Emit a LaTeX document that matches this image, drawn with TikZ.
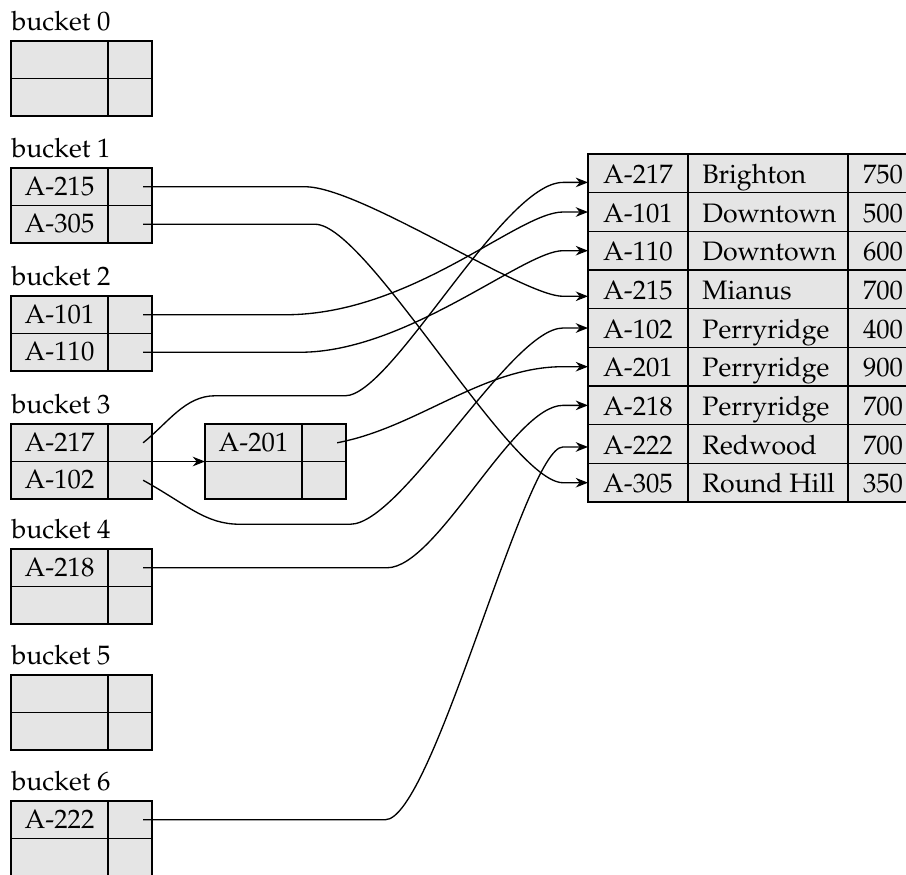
\documentclass[tikz,border=0pt]{standalone}
\usepackage[T1]{fontenc}
\usepackage{palatino}
\usetikzlibrary{arrows.meta}
\definecolor{cellgray}{gray}{0.9}
\tikzset{
  cell/.style={draw, fill=cellgray, line width=0.55pt, inner sep=0pt, outer sep=0pt, text height=6.5pt, text depth=0pt},
  keycell/.style={cell, minimum width=36.4pt, minimum height=14.06pt},
  ptrcell/.style={cell, minimum width=16.5pt, minimum height=14.06pt},
  numcell/.style={cell, minimum width=37.5pt, minimum height=14.5pt, text height=7.5pt},
  branchcell/.style={cell, minimum width=60pt, minimum height=14.5pt, text height=7.5pt, inner xsep=5.4pt},
  balcell/.style={cell, minimum width=26.25pt, minimum height=14.5pt, text height=7.5pt},
  bucketlabel/.style={anchor=base west, inner sep=0pt},
  link/.style={line width=0.5pt, -{Stealth[length=4.6pt,width=3.6pt]}}
}
\newcommand{\hashbucket}[5]{%
  \node[keycell, anchor=north west] (#1k1) at (#2,#3) {#4};
  \node[ptrcell, anchor=west] (#1p1) at (#1k1.east) {};
  \node[keycell, anchor=north west] (#1k2) at (#1k1.south west) {#5};
  \node[ptrcell, anchor=west] (#1p2) at (#1k2.east) {};
}
\begin{document}
\begin{tikzpicture}[x=0.375pt, y=-0.375pt]
    \useasboundingbox (0,0) rectangle (906,874);
    \hashbucket{b0}{11}{41}{}{}
    \hashbucket{b1}{11}{168}{A-215}{A-305}
    \hashbucket{b2}{11}{296}{A-101}{A-110}
    \hashbucket{b3}{11}{424}{A-217}{A-102}
    \hashbucket{b4}{11}{549}{A-218}{}
    \hashbucket{b5}{11}{675}{}{}
    \hashbucket{b6}{11}{801}{A-222}{}
    \hashbucket{ov}{205}{424}{A-201}{}
    \foreach \bk in {0,...,6}
        \node[bucketlabel] (lbl\bk) at ([yshift=4.1pt]b\bk k1.north west) {bucket \bk};
    \foreach \acc/\branch/\bal [count=\i] in {A-217/Brighton/750, A-101/Downtown/500,
        A-110/Downtown/600, A-215/Mianus/700, A-102/Perryridge/400, A-201/Perryridge/900,
        A-218/Perryridge/700, A-222/Redwood/700, A-305/Round Hill/350} {
        \node[numcell, anchor=north west] (acc\i) at (588,{154+38.67*(\i-1)}) {\acc};
        \node[branchcell, anchor=west] (br\i) at (acc\i.east) {\makebox[49.2pt][l]{\branch}};
        \node[balcell, anchor=west] (bal\i) at (br\i.east) {\bal};
    }
    \coordinate (in1) at ([yshift=-3.4pt]acc1.west);
    \coordinate (in4) at ([yshift=-2.6pt]acc4.west);
    \coordinate (in8) at ([yshift=-1.1pt]acc8.west);
    \draw[link] ([xshift=4.9pt]b1p1.center) -- ++(162,0) .. controls +(55,0) and +(-40,0) .. ([xshift=-9.4pt]in4) -- (in4);
    \draw[link] ([xshift=4.9pt]b1p2.center) -- ++(172,0) .. controls +(52,0) and +(-52,0) .. ([xshift=-9.4pt]acc9.west) -- (acc9.west);
    \draw[link] ([xshift=4.9pt]b2p1.center) -- ++(142,0) .. controls +(127,0) and +(-45,0) .. ([xshift=-9.4pt]acc2.west) -- (acc2.west);
    \draw[link] ([xshift=4.9pt]b2p2.center) -- ++(157,0) .. controls +(107,0) and +(-39,0) .. ([xshift=-9.4pt]acc3.west) -- (acc3.west);
    \draw[link] ([xshift=4.9pt]b3p1.center) .. controls +(25,-20) and +(-30,0) .. ++(72,-47) -- ++(130,0) .. controls +(47,0) and +(-60,0) .. ([xshift=-9.4pt]in1) -- (in1);
    \draw[link] ([xshift=4.9pt]b3p2.center) .. controls +(45,25) and +(-35,0) .. ++(97,44) -- ++(110,0) .. controls +(52,0) and +(-52,0) .. ([xshift=-9.4pt]acc5.west) -- (acc5.west);
    \draw[link] (b3p1.south east) -- (ovk1.south west);
    \draw[link] ([xshift=4.9pt]ovp1.center) .. controls +(80,-15) and +(-80,0) .. ([xshift=-9.4pt]acc6.west) -- (acc6.west);
    \draw[link] ([xshift=4.9pt]b4p1.center) -- ++(244,0) .. controls +(50,0) and +(-50,0) .. ([xshift=-9.4pt]acc7.west) -- (acc7.west);
    \draw[link] ([xshift=4.9pt]b6p1.center) -- ++(242,0) .. controls +(48,0) and +(-38,0) .. ([xshift=-9.4pt]in8) -- (in8);
\end{tikzpicture}
\end{document}
